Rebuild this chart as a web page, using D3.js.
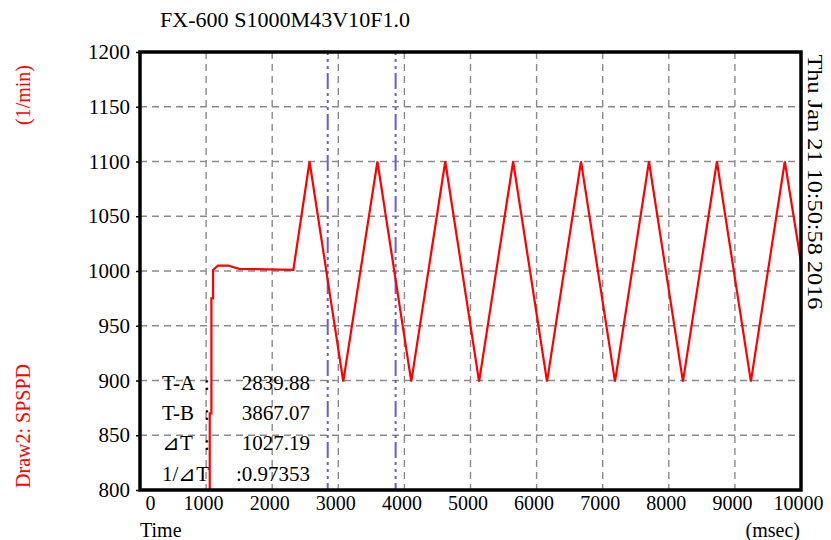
<!DOCTYPE html>
<html>
<head>
<meta charset="utf-8">
<script src="https://cdn.jsdelivr.net/npm/d3@7"></script>
<style>
  html, body { margin: 0; padding: 0; background: #fff; }
  svg { display: block; }
  text { font-family: "Liberation Serif", "DejaVu Serif", serif; }
</style>
</head>
<body>
<svg id="chart" width="831" height="540"></svg>
<script>
// ---- data ----
const chartTitle = "FX-600 S1000M43V10F1.0";
const dateStamp = "Thu Jan 21 10:50:58 2016";
const yUnitLabel = "(1/min)";
const channelLabel = "Draw2: SPSPD";
const xLabel = "Time";
const xUnit = "(msec)";
const xTicks = [0, 1000, 2000, 3000, 4000, 5000, 6000, 7000, 8000, 9000, 10000];
const yTicks = [800, 850, 900, 950, 1000, 1050, 1100, 1150, 1200];
const speedTime = [1055, 1055, 1080, 1080, 1105, 1105, 1180, 1330, 1500, 2320,
                   2565, 3075, 3592, 4104, 4618, 5130, 5645, 6158, 6672, 7186,
                   7700, 8214, 8728, 9242, 9755, 10000];
const speedRpm  = [780, 870, 870, 975, 975, 1001, 1005, 1005, 1002, 1001,
                   1100, 899, 1100, 899, 1100, 899, 1100, 899, 1100, 899,
                   1100, 899, 1100, 899, 1100, 1008];
const cursorTimes = [2839.88, 3867.07];
const readoutLabels = ["T-A", "T-B", "\u22BFT", "1/\u22BFT"];
const readoutValues = [":", ":", ":", ":0.97353"];
const readoutNumbers = ["2839.88", "3867.07", "1027.19", ""];

// ---- layout ----
const svg = d3.select("#chart");
const L = 140, R = 801, T = 52, B = 490;
const x = d3.scaleLinear().domain([0, 10000]).range([L, R]);
const y = d3.scaleLinear().domain([800, 1200]).range([B, T]);

// grid
const grid = svg.append("g").attr("stroke", "#8a8a8a").attr("stroke-width", 1.4)
  .attr("stroke-dasharray", "7,5").attr("fill", "none");
grid.selectAll("line.v").data(xTicks.filter(d => d > 0 && d < 10000)).enter()
  .append("line").attr("x1", d => x(d)).attr("x2", d => x(d)).attr("y1", T).attr("y2", B);
grid.selectAll("line.h").data(yTicks.filter(d => d > 800 && d < 1200)).enter()
  .append("line").attr("x1", L).attr("x2", R).attr("y1", d => y(d)).attr("y2", d => y(d));

// cursors
svg.append("g").selectAll("line").data(cursorTimes).enter().append("line")
  .attr("x1", d => x(d)).attr("x2", d => x(d)).attr("y1", T).attr("y2", B)
  .attr("stroke", "#6f5cc6").attr("stroke-width", 2)
  .attr("stroke-dasharray", "3,4,3,4,3,4,16,4");

// readout text
const ro = svg.append("g").attr("font-size", 21).attr("fill", "#000");
const roBase = [390, 420, 450, 481];
readoutLabels.forEach((lab, i) => {
  ro.append("text").attr("x", 162).attr("y", roBase[i]).text(lab);
  if (i < 3) {
    ro.append("text").attr("x", 204).attr("y", roBase[i]).text(readoutValues[i]);
    ro.append("text").attr("x", 310).attr("y", roBase[i]).attr("text-anchor", "end").text(readoutNumbers[i]);
  } else {
    ro.append("text").attr("x", 310).attr("y", roBase[i]).attr("text-anchor", "end").text(readoutValues[i]);
  }
});

// signal
svg.append("clipPath").attr("id", "clip").append("rect")
  .attr("x", L).attr("y", T).attr("width", R - L).attr("height", B - T);
const pts = speedTime.map((t, i) => [t, speedRpm[i]]);
svg.append("path").datum(pts)
  .attr("clip-path", "url(#clip)")
  .attr("fill", "none").attr("stroke", "#ff0000").attr("stroke-width", 2.2)
  .attr("stroke-linejoin", "miter")
  .attr("d", d3.line().x(d => x(d[0])).y(d => y(d[1])));

// axes
const yAxis = svg.append("g").attr("transform", `translate(${L},0)`)
  .call(d3.axisLeft(y).tickValues(yTicks).tickSize(4).tickPadding(6).tickFormat(d3.format("d")));
yAxis.select(".domain").remove();
yAxis.selectAll("text").attr("font-size", 21).attr("font-family", "Liberation Serif").attr("fill", "#000");
yAxis.selectAll("line").attr("stroke", "#000").attr("stroke-width", 1.5);

const xAxis = svg.append("g").attr("transform", `translate(0,${B})`)
  .call(d3.axisBottom(x).tickValues(xTicks).tickSize(0).tickPadding(6).tickFormat(d3.format("d")));
xAxis.select(".domain").remove();
xAxis.selectAll("text").attr("font-size", 20).attr("font-family", "Liberation Serif").attr("fill", "#000")
  .attr("dx", d => d === 0 ? 10 : -3);

// frame
svg.append("rect").attr("x", L).attr("y", T).attr("width", R - L).attr("height", B - T)
  .attr("fill", "none").attr("stroke", "#000").attr("stroke-width", 3.5);

// labels
svg.append("text").attr("x", 160).attr("y", 27).attr("font-size", 21)
  .attr("textLength", 250).attr("lengthAdjust", "spacingAndGlyphs").text(chartTitle);
svg.append("text").attr("x", 140).attr("y", 537).attr("font-size", 20).text(xLabel);
svg.append("text").attr("x", 800).attr("y", 537).attr("font-size", 20).attr("text-anchor", "end").text(xUnit);
svg.append("text").attr("transform", "translate(30,95) rotate(-90)")
  .attr("text-anchor", "middle").attr("font-size", 20).attr("fill", "#ff0000").text(yUnitLabel);
svg.append("text").attr("transform", "translate(30,426) rotate(-90)")
  .attr("text-anchor", "middle").attr("font-size", 20).attr("fill", "#ff0000").text(channelLabel);
svg.append("text").attr("transform", "translate(808,182) rotate(90)")
  .attr("text-anchor", "middle").attr("font-size", 21).attr("fill", "#000")
  .attr("textLength", 255).attr("lengthAdjust", "spacingAndGlyphs").text(dateStamp);
</script>
</body>
</html>
